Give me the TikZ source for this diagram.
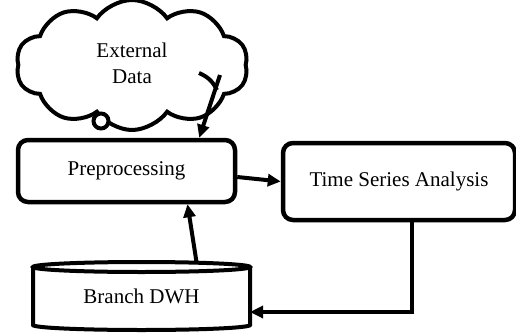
\documentclass[tikz,border=0pt]{standalone}
\usepackage{fontspec}
\setmainfont{Liberation Serif}
\usetikzlibrary{positioning,shapes,arrows.meta}

\tikzset{
  line/.style={line width=4pt},
  box/.style={draw, line width=4.5pt, rounded corners=10pt, align=center},
  arr/.style={line width=4pt, -{Triangle[length=13pt,width=12pt]}},
}

\begin{document}
\begin{tikzpicture}[x=1pt, y=1pt, font=\fontsize{21}{26}\selectfont]
				\useasboundingbox (0,0) rectangle (516,333);
				\node[draw, line width=4pt, cloud, cloud puffs=10, cloud puff arc=110, aspect=1.9, minimum width=232pt, minimum height=130pt] (ext) at (132,268) {\raisebox{-6pt}{\begin{tabular}{c}External\\Data\end{tabular}}};
				\draw [line, fill=white] (101,212) circle (7.5pt);
				\draw [line] (199,260) to[bend left=20] (217,243);
				\coordinate (cfrom) at (220,258);
				\node[box, minimum width=217pt, minimum height=62pt] (pre) at (126.5,162) {Preprocessing};
				\node[box, minimum width=232pt, minimum height=77pt] (tsa) at (399,151.5) {Time Series Analysis};
				\node[outer sep=0pt, inner sep=0pt, minimum width=217pt, minimum height=68pt] (dwh) at (141.5,37) {\raisebox{-9pt}{Branch DWH}};
				\draw [line] ([yshift=-5pt]dwh.north west) -- ([yshift=5pt]dwh.south west) arc[start angle=180, end angle=360, x radius=108.5pt, y radius=5pt] -- ([yshift=-5pt]dwh.north east);
				\draw [line] ([yshift=-5pt]dwh.north) ellipse [x radius=108.5pt, y radius=5pt];
				\draw [arr] (cfrom) -- ([xshift=-38pt]pre.north east);
				\draw [arr] ([yshift=-6pt]pre.east) -- (tsa.west);
				\draw [arr] ([xshift=55pt]dwh.north) -- ([xshift=61pt]pre.south);
				\draw [arr] ([xshift=13pt]tsa.south) |- ([yshift=-16pt]dwh.east);
			\end{tikzpicture}
\end{document}
